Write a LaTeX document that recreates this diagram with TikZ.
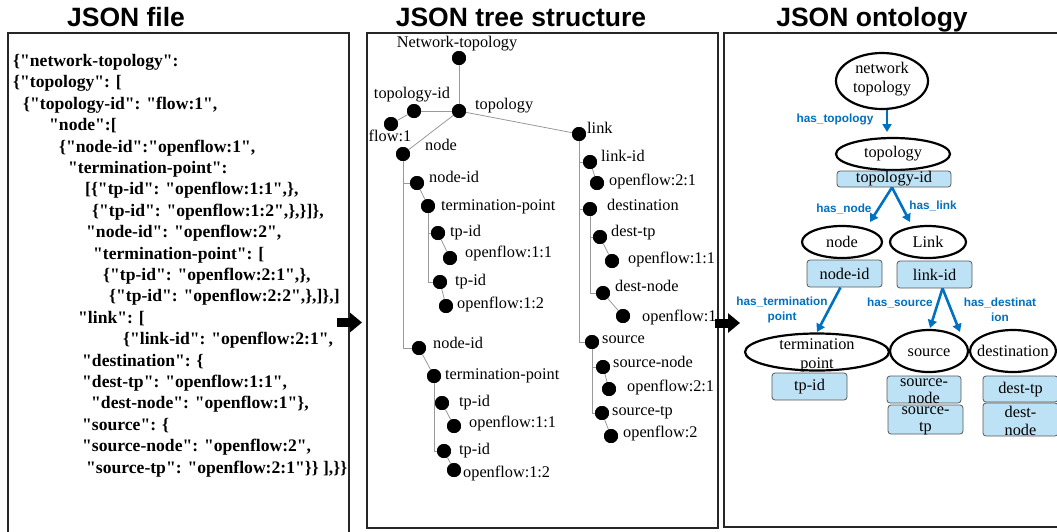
\documentclass[tikz,border=0pt]{standalone}
\usepackage{fontspec}
\setmainfont{Liberation Serif}
\newfontfamily\sansf{Liberation Sans}
\usetikzlibrary{arrows.meta,shapes.geometric}
\definecolor{ontblue}{RGB}{0,112,192}
\definecolor{boxfill}{RGB}{189,226,245}
\newcommand\q{\textquotedbl}
\begin{document}
\begin{tikzpicture}[x=1pt,y=-1pt,
  panel/.style={draw=black!85, line width=1.3pt},
  ttl/.style={anchor=base, inner sep=0, font=\sansf\bfseries\fontsize{26.5}{30}\selectfont},
  jl/.style={anchor=west, inner sep=0, font=\bfseries\fontsize{17.6}{21}\selectfont, text height=13.2pt, text depth=4.4pt},
  dot/.style={circle, fill=black, minimum size=14pt, inner sep=0},
  tl/.style={anchor=west, inner sep=0, font=\fontsize{16.3}{19}\selectfont, text height=11pt, text depth=3.5pt},
  tc/.style={inner sep=0, font=\fontsize{16.3}{19}\selectfont, text height=11pt, text depth=3.5pt},
  tree/.style={draw=black!40, line width=0.8pt},
  ell/.style={ellipse, draw=black, line width=2.2pt, inner sep=0},
  tb/.style={draw=black!65, fill=boxfill, rounded corners=3pt, line width=0.8pt, inner sep=0},
  et/.style={inner sep=0, align=center, font=\fontsize{16.3}{19}\selectfont},
  et2/.style={inner sep=0, align=center, font=\fontsize{16.3}{17.5}\selectfont},
  rel/.style={draw=ontblue, line width=2.6pt, -{Triangle[width=9pt,length=8pt]}},
  rl/.style={text=ontblue, inner sep=0, align=center, font=\sansf\bfseries\fontsize{11.8}{15.5}\selectfont},
  bigarrow/.style={line width=9pt, -{Triangle[width=19pt,length=12pt]}}
]
\clip (0,0) rectangle (1057,531);
\fill[white] (0,0) rectangle (1057,531);

% ---------- titles ----------
\node[ttl] (t1) at (126,26) {JSON file};
\node[ttl] (t2) at (521,26) {JSON tree structure};
\node[ttl] (t3) at (872,26) {JSON ontology};

% ---------- panels ----------
\draw[panel] (8,33) rectangle (349,545);
\draw[panel] (367,33) rectangle (718,528);
\draw[panel] (724,33) rectangle (1070,527);

% ---------- JSON file ----------
\node[jl] (j1)  at (13,62)    {\{\q{}network-topology\q{}:};
\node[jl] (j2)  at (13,83.4)  {\{\q{}topology\q{}: [};
\node[jl] (j3)  at (23,104.8) {\{\q{}topology-id\q{}: \q{}flow:1\q{},};
\node[jl] (j4)  at (49,126.2) {\q{}node\q{}:[};
\node[jl] (j5)  at (59,147.6) {\{\q{}node-id\q{}:\q{}openflow:1\q{},};
\node[jl] (j6)  at (68,169)   {\q{}termination-point\q{}:};
\node[jl] (j7)  at (85,190.4) {[\{\q{}tp-id\q{}: \q{}openflow:1:1\q{},\},};
\node[jl] (j8)  at (92,211.8) {\{\q{}tp-id\q{}: \q{}openflow:1:2\q{},\},\}]\},};
\node[jl] (j9)  at (86,233.2) {\q{}node-id\q{}: \q{}openflow:2\q{},};
\node[jl] (j10) at (93,254.6) {\q{}termination-point\q{}: [};
\node[jl] (j11) at (103,276)  {\{\q{}tp-id\q{}: \q{}openflow:2:1\q{},\},};
\node[jl] (j12) at (109,297.4){\{\q{}tp-id\q{}: \q{}openflow:2:2\q{},\},]\},]};
\node[jl] (j13) at (78,318.8) {\q{}link\q{}: [};
\node[jl] (j14) at (123,340.2){\{\q{}link-id\q{}: \q{}openflow:2:1\q{},};
\node[jl] (j15) at (82,361.6) {\q{}destination\q{}: \{};
\node[jl] (j16) at (82,383)   {\q{}dest-tp\q{}: \q{}openflow:1:1\q{},};
\node[jl] (j17) at (91,404.4) {\q{}dest-node\q{}: \q{}openflow:1\q{}\},};
\node[jl] (j18) at (82,425.8) {\q{}source\q{}: \{};
\node[jl] (j19) at (82,447.2) {\q{}source-node\q{}: \q{}openflow:2\q{},};
\node[jl] (j20) at (86,468.6) {\q{}source-tp\q{}: \q{}openflow:2:1\q{}\}\} ],\}\}};

% ---------- JSON tree ----------
\node[dot] (NT)   at (459,58)  {};
\node[dot] (topo) at (459,111) {};
\node[dot] (tid)  at (414,111) {};
\node[dot] (flow) at (391,124) {};
\node[dot] (nd)   at (403,154) {};
\node[dot] (lk)   at (579,134) {};
\node[dot] (nidA) at (417,183) {};
\node[dot] (tpA)  at (428,206) {};
\node[dot] (tpidA) at (438,233) {};
\node[dot] (ofA)  at (450,258) {};
\node[dot] (tpidB) at (440,282) {};
\node[dot] (ofB)  at (446,306) {};
\node[dot] (nidB) at (419,348) {};
\node[dot] (tpB)  at (434,376) {};
\node[dot] (tpidC) at (442,403) {};
\node[dot] (ofC)  at (454,426) {};
\node[dot] (tpidD) at (444,451) {};
\node[dot] (ofD)  at (454,470) {};
\node[dot] (lid)  at (590,162) {};
\node[dot] (ofE)  at (597,183) {};
\node[dot] (dst)  at (590,209) {};
\node[dot] (dtp)  at (600,237) {};
\node[dot] (ofF)  at (612,261) {};
\node[dot] (dnd)  at (603,293) {};
\node[dot] (ofG)  at (623,316) {};
\node[dot] (src)  at (592,342) {};
\node[dot] (snd)  at (603,367) {};
\node[dot] (ofH)  at (609,389) {};
\node[dot] (stp)  at (602,413) {};
\node[dot] (ofI)  at (611,436) {};

\draw[tree] (NT) -- (topo);
\draw[tree] (topo) -- (tid);
\draw[tree] (tid) -- (flow);
\draw[tree] (topo) -- (nd);
\draw[tree] (topo) -- (lk);
\draw[tree] (nd) |- (nidA);
\draw[tree] (nd) |- (nidB);
\draw[tree] (nidA) -- (tpA);
\draw[tree] (tpA) |- (tpidA);
\draw[tree] (tpA) |- (tpidB);
\draw[tree] (tpidA) -- (ofA);
\draw[tree] (tpidB) -- (ofB);
\draw[tree] (nidB) -- (tpB);
\draw[tree] (tpB) |- (tpidC);
\draw[tree] (tpB) |- (tpidD);
\draw[tree] (tpidC) -- (ofC);
\draw[tree] (tpidD) -- (ofD);
\draw[tree] (lk) |- (lid);
\draw[tree] (lk) |- (dst);
\draw[tree] (lk) |- (src);
\draw[tree] (lid) -- (ofE);
\draw[tree] (dst) |- (dtp);
\draw[tree] (dst) |- (dnd);
\draw[tree] (dtp) -- (ofF);
\draw[tree] (dnd) -- (ofG);
\draw[tree] (src) |- (snd);
\draw[tree] (src) |- (stp);
\draw[tree] (snd) -- (ofH);
\draw[tree] (stp) -- (ofI);
% dots drawn again over the lines
\foreach \n in {NT,topo,tid,flow,nd,lk,nidA,tpA,tpidA,ofA,tpidB,ofB,nidB,tpB,tpidC,ofC,tpidD,ofD,lid,ofE,dst,dtp,ofF,dnd,ofG,src,snd,ofH,stp,ofI}
  \fill (\n) circle (7pt);

\node[tc] (lNT) at (457,44) {Network-topology};
\node[tc] (ltid) at (412,95) {topology-id};
\node[tc] (lflow) at (390,138) {flow:1};
\node[tl] (ltopo) at (475,106) {topology};
\node[tl] (lnd) at (425,147) {node};
\node[tl] (llk) at (587,130) {link};
\node[tl] (lnidA) at (429,179) {node-id};
\node[tl] (ltpA) at (441,207) {termination-point};
\node[tl] (ltpidA) at (450,233) {tp-id};
\node[tl] (lofA) at (465,254) {openflow:1:1};
\node[tl] (ltpidB) at (455,282) {tp-id};
\node[tl] (lofB) at (457,305) {openflow:1:2};
\node[tl] (lnidB) at (433,345) {node-id};
\node[tl] (ltpB) at (445,376) {termination-point};
\node[tl] (ltpidC) at (459,403) {tp-id};
\node[tl] (lofC) at (469,424) {openflow:1:1};
\node[tl] (ltpidD) at (459,451) {tp-id};
\node[tl] (lofD) at (463,474) {openflow:1:2};
\node[tl] (llid) at (601,158) {link-id};
\node[tl] (lofE) at (609,182) {openflow:2:1};
\node[tl] (ldst) at (607,207) {destination};
\node[tl] (ldtp) at (611,233) {dest-tp};
\node[tl] (lofF) at (628,260) {openflow:1:1};
\node[tl] (ldnd) at (615,288) {dest-node};
\node[tl] (lofG) at (642,318) {openflow:1};
\node[tl] (lsrc) at (602,340) {source};
\node[tl] (lsnd) at (613,364) {source-node};
\node[tl] (lofH) at (627,388) {openflow:2:1};
\node[tl] (lstp) at (612,412) {source-tp};
\node[tl] (lofI) at (623,434) {openflow:2};

% ---------- big arrows ----------
\coordinate (a1s) at (337,322.5);
\coordinate (a1e) at (362,322.5);
\coordinate (a2s) at (715,323);
\coordinate (a2e) at (740,323);
\draw[bigarrow] (a1s) -- (a1e);
\draw[bigarrow] (a2s) -- (a2e);

% ---------- ontology ----------
\node[ell, minimum width=92pt, minimum height=56pt] (ont) at (882,81) {};
\node[et] (ontT) at (882,79) {network\\topology};
\node[ell, minimum width=114pt, minimum height=32pt] (topoE) at (893,154) {};
\node[et] (topoT) at (893,154) {topology};
\node[tb, minimum width=114pt, minimum height=16pt] (tidB) at (894,179) {};
\node[et] (tidT) at (894,179) {topology-id};
\node[ell, minimum width=80pt, minimum height=32pt] (nodeE) at (842,242) {};
\node[et] (nodeT) at (842,242) {node};
\node[ell, minimum width=76pt, minimum height=32pt] (linkE) at (928,242) {};
\node[et] (linkT) at (928,242) {Link};
\node[tb, minimum width=75pt, minimum height=27pt] (nidR) at (844.5,273.5) {};
\node[et] (nidRT) at (844.5,273.5) {node-id};
\node[tb, minimum width=75pt, minimum height=27pt] (lidR) at (934.5,274.5) {};
\node[et] (lidRT) at (934.5,274.5) {link-id};
\node[ell, minimum width=144pt, minimum height=37pt] (tpE) at (817,352) {};
\node[et] (tpET) at (817,355) {termination\\point};
\node[ell, minimum width=78pt, minimum height=42pt] (srcE) at (929,351) {};
\node[et] (srcET) at (929,353) {source};
\node[ell, minimum width=86pt, minimum height=42pt] (dstE) at (1013,351) {};
\node[et] (dstET) at (1013,351) {destination};
\node[tb, minimum width=75pt, minimum height=27pt] (tpidR) at (809.5,386.5) {};
\node[et] (tpidRT) at (809.5,386.5) {tp-id};
\node[tb, minimum width=74pt, minimum height=27pt] (sndR) at (924,389.5) {};
\node[et2] (sndRT) at (924,391) {source-\\node};
\node[tb, minimum width=75pt, minimum height=29pt] (stpR) at (925.5,419.5) {};
\node[et2] (stpRT) at (925.5,421) {source-\\tp};
\node[tb, minimum width=75pt, minimum height=26pt] (dtpR) at (1020.5,389) {};
\node[et] (dtpRT) at (1020.5,390) {dest-tp};
\node[tb, minimum width=75pt, minimum height=33pt] (dndR) at (1020.5,419.5) {};
\node[et2] (dndRT) at (1020.5,421) {dest-\\node};

\coordinate (e1) at (887,132);
\coordinate (e2) at (870,222);
\coordinate (e3) at (910,222);
\coordinate (e4) at (817,332);
\coordinate (e5) at (930,328);
\coordinate (e6) at (960,332);
\draw[rel] ([xshift=5pt]ont.south) -- (e1);
\draw[rel] ([xshift=-2pt]tidB.south) -- (e2);
\draw[rel] ([xshift=-2pt]tidB.south) -- (e3);
\draw[rel] ([xshift=-4pt]nidR.south) -- (e4);
\draw[rel] ([xshift=8pt]lidR.south) -- (e5);
\draw[rel] ([xshift=8pt]lidR.south) -- (e6);

\node[rl] (r1) at (835,119) {has\_topology};
\node[rl] (r2) at (844,209) {has\_node};
\node[rl] (r3) at (933,206) {has\_link};
\node[rl] (r4) at (782,310) {has\_termination\\point};
\node[rl] (r5) at (900,303) {has\_source};
\node[rl] (r6) at (1000,310) {has\_destinat\\ion};
\end{tikzpicture}
\end{document}
